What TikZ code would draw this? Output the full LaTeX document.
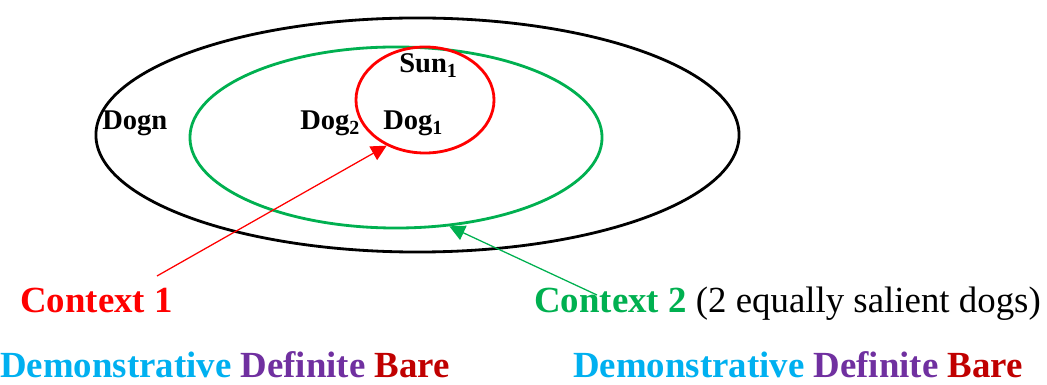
\documentclass[tikz,border=0pt]{standalone}
\usepackage{fontspec}
\setmainfont{Liberation Serif}
\usetikzlibrary{arrows.meta,shapes.geometric}

\definecolor{saliencyRed}{RGB}{255,0,0}
\definecolor{saliencyGreen}{RGB}{0,176,80}
\definecolor{saliencyDem}{RGB}{0,176,240}
\definecolor{saliencyDef}{RGB}{112,48,160}
\definecolor{saliencyBare}{RGB}{192,0,0}

\begin{document}
\begin{tikzpicture}[x=.025cm,y=-.025cm,
      set/.style={ellipse, draw, line width=2pt, inner sep=0pt},
      referent/.style={font=\fontsize{20.3}{24}\selectfont\bfseries,
        text=black, anchor=base west, inner sep=0pt},
      context/.style={font=\fontsize{26.2}{30}\selectfont,
        anchor=base west, inner sep=0pt},
      pointer/.style={line width=.9pt, -{Triangle[length=11pt,width=11pt]}}]
      \useasboundingbox (0,0) rectangle (1047,385);

      \node[set, minimum width=16.075cm, minimum height=5.85cm]
        (allDogs) at (417.5,135) {};
      \node[set, draw=saliencyGreen, minimum width=10.3cm, minimum height=4.525cm]
        (ctxTwoSet) at (396,137.5) {};
      \node[set, draw=saliencyRed, minimum width=3.45cm, minimum height=2.65cm]
        (ctxOneSet) at (425,100) {};

      \node[referent] (dogN) at (102,130) {Dogn};
      \node[referent] (dogTwo) at (300,130) {Dog\textsubscript{2}};
      \node[referent] (dogOne) at (383,130) {Dog\textsubscript{1}};
      \node[referent] (sunOne) at (399,73) {Sun\textsubscript{1}};

      \node[context, text=saliencyRed] (ctxOne) at (20,313) {\bfseries Context 1};
      \node[context] (ctxTwo) at (534,313)
        {\textcolor{saliencyGreen}{\bfseries Context 2} (2 equally salient dogs)};

      \node[context] (formsOne) at (0,378) {\bfseries
        \textcolor{saliencyDem}{Demonstrative} \textcolor{saliencyDef}{Definite}
        \textcolor{saliencyBare}{Bare}};
      \node[context] (formsTwo) at (573,378) {\bfseries
        \textcolor{saliencyDem}{Demonstrative} \textcolor{saliencyDef}{Definite}
        \textcolor{saliencyBare}{Bare}};

      \coordinate (ctxOneFoot) at (157,276);
      \coordinate (ctxTwoFoot) at (597,295);
      \draw[pointer, saliencyRed] (ctxOneFoot) -- (ctxOneSet.230);
      \draw[pointer, saliencyGreen] (ctxTwoFoot) -- (ctxTwoSet.-59.5);
    \end{tikzpicture}
\end{document}
